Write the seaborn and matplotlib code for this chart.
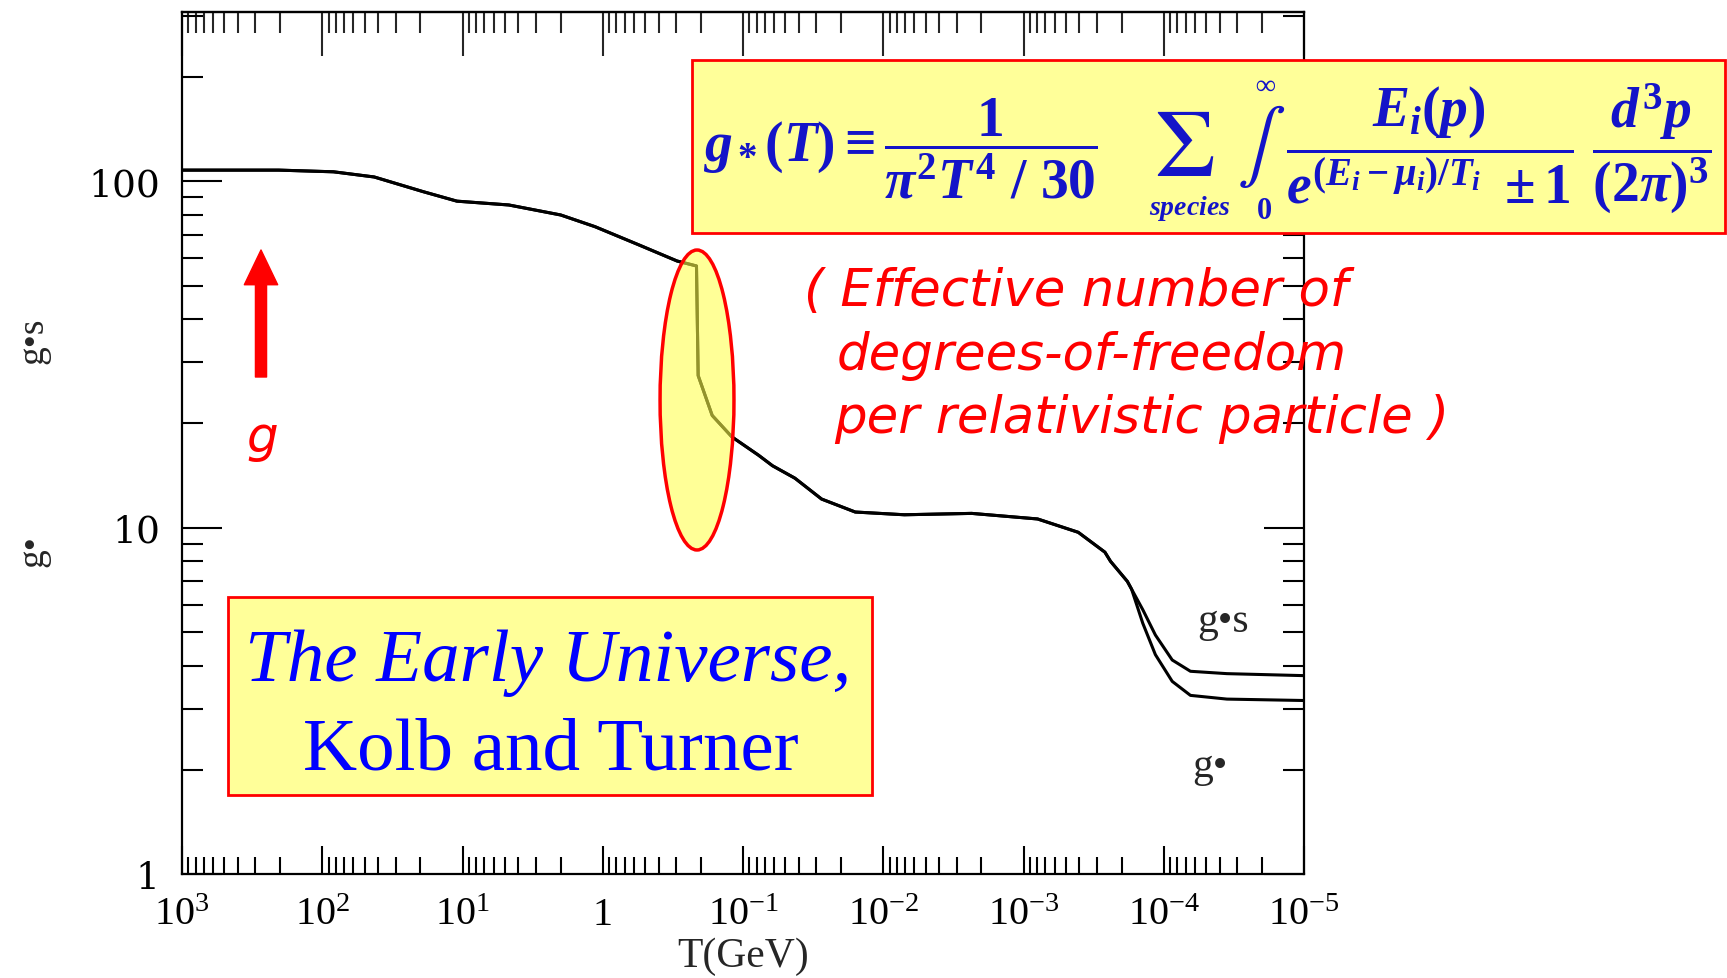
import numpy as np
import pandas as pd
import matplotlib
matplotlib.use("Agg")
import matplotlib.pyplot as plt
import seaborn as sns
from matplotlib.patches import Rectangle, Ellipse
from matplotlib.ticker import LogLocator, FixedLocator, FixedFormatter, NullFormatter

# curve: log10(T / GeV), g* and g*s
log_temp = [3.0, 2.31, 1.92, 1.63, 1.28, 1.04, 0.67, 0.30, 0.055, -0.26, -0.53, -0.668,
            -0.680, -0.78, -0.92, -1.11, -1.21, -1.37, -1.56, -1.80, -2.15, -2.63, -3.10,
            -3.39, -3.58, -3.62, -3.74, -3.77, -3.85, -3.94, -4.06, -4.19, -4.45, -5.0]
g_star = [107.8, 107.8, 106.6, 103.0, 93.4, 87.7, 85.5, 80.0, 74.0, 65.5, 58.9, 57.0,
          27.5, 21.1, 18.3, 16.2, 15.1, 13.9, 12.1, 11.1, 10.9, 11.0, 10.6,
          9.7, 8.5, 8.0, 7.0, 6.65, 5.3, 4.3, 3.6, 3.28, 3.2, 3.17]
g_star_s = [107.8, 107.8, 106.6, 103.0, 93.4, 87.7, 85.5, 80.0, 74.0, 65.5, 58.9, 57.0,
            27.5, 21.1, 18.3, 16.2, 15.1, 13.9, 12.1, 11.1, 10.9, 11.0, 10.6,
            9.7, 8.5, 8.0, 7.0, 6.65, 5.8, 4.9, 4.15, 3.85, 3.79, 3.74]

x_ticks = [1e3, 1e2, 1e1, 1, 1e-1, 1e-2, 1e-3, 1e-4, 1e-5]
x_tick_labels = [r"$\mathregular{10^{3}}$", r"$\mathregular{10^{2}}$", r"$\mathregular{10^{1}}$",
                 "1", r"$\mathregular{10^{-1}}$", r"$\mathregular{10^{-2}}$",
                 r"$\mathregular{10^{-3}}$", r"$\mathregular{10^{-4}}$", r"$\mathregular{10^{-5}}$"]
y_ticks = [1, 10, 100]
y_tick_labels = ["1", "10", "100"]

temp = 10 ** np.array(log_temp)
df = pd.concat([
    pd.DataFrame({"T": temp, "g": g_star, "series": "g*"}),
    pd.DataFrame({"T": temp, "g": g_star_s, "series": "g*s"}),
])

sns.set_style("ticks")
plt.rcParams["font.family"] = ["Liberation Serif", "DejaVu Serif"]
plt.rcParams["mathtext.fontset"] = "custom"
plt.rcParams["mathtext.rm"] = "Liberation Serif:bold"
plt.rcParams["mathtext.it"] = "Liberation Serif:italic:bold"
plt.rcParams["mathtext.bf"] = "Liberation Serif:bold"

fig = plt.figure(figsize=(17.27, 9.79), dpi=100)
ax = fig.add_axes([0.1054, 0.1062, 0.6497, 0.8808])

sns.lineplot(data=df, x="T", y="g", hue="series", palette=["black", "black"],
             legend=False, lw=2.2, ax=ax)

ax.set_xscale("log")
ax.set_yscale("log")
ax.set_xlim(1e3, 1e-5)
ax.set_ylim(1, 10 ** 2.49)

ax.xaxis.set_major_locator(FixedLocator(x_ticks))
ax.xaxis.set_major_formatter(FixedFormatter(x_tick_labels))
ax.xaxis.set_minor_locator(LogLocator(base=10, subs=np.arange(2, 10), numticks=100))
ax.xaxis.set_minor_formatter(NullFormatter())
ax.yaxis.set_major_locator(FixedLocator(y_ticks))
ax.yaxis.set_major_formatter(FixedFormatter(y_tick_labels))
ax.yaxis.set_minor_locator(LogLocator(base=10, subs=np.arange(2, 10), numticks=100))
ax.yaxis.set_minor_formatter(NullFormatter())

ax.tick_params(axis="both", which="both", direction="in", width=1.5, colors="black")
ax.tick_params(axis="x", which="major", length=20, labelsize=29, pad=16, top=False)
ax.tick_params(axis="x", which="minor", length=12, top=False)
ax.tick_params(axis="y", which="major", length=29, labelsize=27, pad=16, right=True)
ax.tick_params(axis="y", which="minor", length=15, right=True)
for lab in ax.get_yticklabels():
    lab.set_family("DejaVu Serif")
for s in ax.spines.values():
    s.set_linewidth(1.6)
    s.set_color("black")

top = ax.secondary_xaxis("top")
top.xaxis.set_major_locator(FixedLocator(x_ticks))
top.xaxis.set_minor_locator(LogLocator(base=10, subs=np.arange(2, 10), numticks=100))
top.xaxis.set_major_formatter(NullFormatter())
top.xaxis.set_minor_formatter(NullFormatter())
top.tick_params(which="both", direction="in", width=1.5)
top.tick_params(which="major", length=32)
top.tick_params(which="minor", length=15)
top.spines["top"].set_linewidth(1.6)

ax.set_xlabel("T(GeV)", fontsize=30, labelpad=2)
ax.set_ylabel("")

ax.text(10 ** -4.42, 5.4, "g•s", fontsize=30, ha="center", va="center")
ax.text(10 ** -4.33, 2.05, "g•", fontsize=30, ha="center", va="center")
fig.text(0.0191, 0.6517, "g•s", fontsize=27, rotation=90, ha="center", va="center")
fig.text(0.0191, 0.4372, "g•", fontsize=27, rotation=90, ha="center", va="center")

# highlighted QCD transition
fig.add_artist(Ellipse((0.4036, 0.5904), 0.0428, 0.3064, transform=fig.transFigure,
                       facecolor=(1, 1, 0.3, 0.58), edgecolor="red", lw=2.5, zorder=5))

# formula box, built from pieces so the sum and integral can be large
blue = "#1414C8"
fig.add_artist(Rectangle((0.4007, 0.761), 0.598, 0.1767, transform=fig.transFigure,
                         facecolor="#FFFF99", edgecolor="red", lw=2, zorder=5))
fig.text(0.407, 0.8478, r"$g_*(T) \equiv \dfrac{1}{\pi^2T^4\ /\ 30}$", fontsize=40,
         color=blue, ha="left", va="center", zorder=6)
fig.text(0.6856, 0.8440, r"$\Sigma$", fontsize=70, color=blue, math_fontfamily="stix",
         ha="center", va="center", zorder=6)
fig.text(0.689, 0.7870, r"$species$", fontsize=20, color=blue,
         ha="center", va="center", zorder=6)
fig.text(0.7300, 0.8504, r"$\int$", fontsize=52, color=blue, math_fontfamily="stix",
         ha="center", va="center", zorder=6)
fig.text(0.7330, 0.9115, r"$\infty$", fontsize=20, color=blue,
         ha="center", va="center", zorder=6)
fig.text(0.7320, 0.7835, r"$0$", fontsize=22, color=blue,
         ha="center", va="center", zorder=6)
fig.text(0.7446, 0.8478, r"$\dfrac{E_i(p)}{e^{(E_i-\mu_i)/T_i}\ \pm 1}\ \dfrac{d^3p}{(2\pi)^3}$",
         fontsize=40, color=blue, ha="left", va="center", zorder=6)

# book box
fig.add_artist(Rectangle((0.132, 0.187), 0.373, 0.202, transform=fig.transFigure,
                         facecolor="#FFFF99", edgecolor="red", lw=2, zorder=5))
fig.text(0.3173, 0.3229, "The Early Universe,", fontsize=54, style="italic", color="#0000FF",
         ha="center", va="center", zorder=6)
fig.text(0.319, 0.232, "Kolb and Turner", fontsize=54, color="#0000FF",
         ha="center", va="center", zorder=6)

# red notes
red_font = ["DejaVu Sans"]
fig.text(0.4655, 0.7017, "( Effective number of", fontsize=37, style="italic", color="red",
         family=red_font, ha="left", va="center", zorder=7)
fig.text(0.4847, 0.6364, "degrees-of-freedom", fontsize=37, style="italic", color="red",
         family=red_font, ha="left", va="center", zorder=7)
fig.text(0.4829, 0.5720, "per relativistic particle )", fontsize=37, style="italic", color="red",
         family=red_font, ha="left", va="center", zorder=7)
fig.text(0.1517, 0.5526, "g", fontsize=36, style="italic", color="red",
         family=red_font, ha="center", va="center", zorder=7)
ax.annotate("", xy=(261, 728), xytext=(261, 601), xycoords="figure pixels",
            textcoords="figure pixels",
            arrowprops=dict(width=8, headwidth=24, headlength=25, color="red", shrink=0))

fig.savefig("out.png", dpi=100)
